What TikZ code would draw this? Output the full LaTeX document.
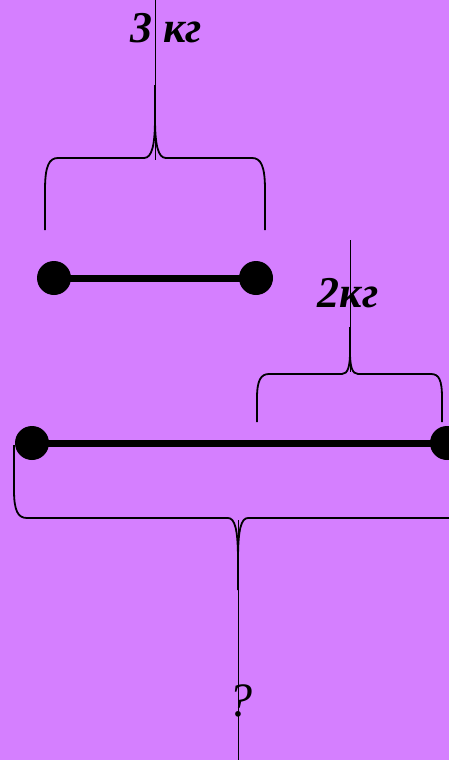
\documentclass[tikz,border=0pt]{standalone}
\usepackage{fontspec}
\setmainfont{Liberation Serif}
\definecolor{bgviolet}{RGB}{213,127,255}
\tikzset{
  dot/.style={circle,fill=black,inner sep=0pt,minimum size=34pt},
  bar/.style={line width=7pt},
  brace/.style={line width=1.8pt},
  thinline/.style={line width=0.7pt},
  kglabel/.style={font=\fontsize{44}{44}\selectfont\bfseries\itshape,anchor=base,inner sep=0pt},
  qlabel/.style={font=\fontsize{48}{48}\selectfont\itshape,anchor=base,inner sep=0pt}
}
\begin{document}
\begin{tikzpicture}[x=1pt,y=-1pt]
\useasboundingbox (0,0) rectangle (449,760);
\fill[bgviolet] (0,0) rectangle (449,760);
\clip (0,0) rectangle (449,760);

% labels
\node[kglabel] (l3) at (166,43) {3 кг};
\node[kglabel] (l2) at (348,307) {2кг};
\node[qlabel] (lq) at (240,716) {?};

% top segment
\node[dot] (a1) at (54,278) {};
\node[dot] (a2) at (256,278) {};
\draw[bar] (a1.center) -- (a2.center);

% long segment
\node[dot] (b1) at (32,443) {};
\node[dot] (b2) at (447,443) {};
\draw[bar] (b1.center) -- (b2.center);

% top brace
\coordinate (t0) at (155,0);
\coordinate (tt) at (155,85);
\draw[thinline] (t0) -- (155,160);
\draw[brace] (45,230) -- (45,190) .. controls (45,166) and (49,158) .. (58,158)
  -- (144,158) .. controls (152,158) and (155,145) .. (155,118) -- (tt);
\draw[brace] (155,118) .. controls (155,145) and (158,158) .. (166,158)
  -- (252,158) .. controls (261,158) and (265,166) .. (265,190) -- (265,230);

% middle brace
\coordinate (m0) at (350,240);
\coordinate (mt) at (350,327);
\draw[thinline] (m0) -- (350,372);
\draw[brace] (257,422) -- (257,398) .. controls (257,380) and (261,374) .. (269,374)
  -- (342,374) .. controls (348,374) and (350,366) .. (350,352) -- (mt);
\draw[brace] (350,352) .. controls (350,366) and (352,374) .. (358,374)
  -- (431,374) .. controls (439,374) and (442,380) .. (442,398) -- (442,422);

% bottom brace
\coordinate (q0) at (238,760);
\coordinate (qt) at (238,590);
\draw[thinline] (238,520) -- (q0);
\draw[brace] (14,445) -- (14,490) .. controls (14,511) and (18,518) .. (27,518)
  -- (228,518) .. controls (235,518) and (238,530) .. (238,560) -- (qt);
\draw[brace] (238,560) .. controls (238,530) and (241,518) .. (248,518)
  -- (449,518) -- (462,518);
\end{tikzpicture}
\end{document}
